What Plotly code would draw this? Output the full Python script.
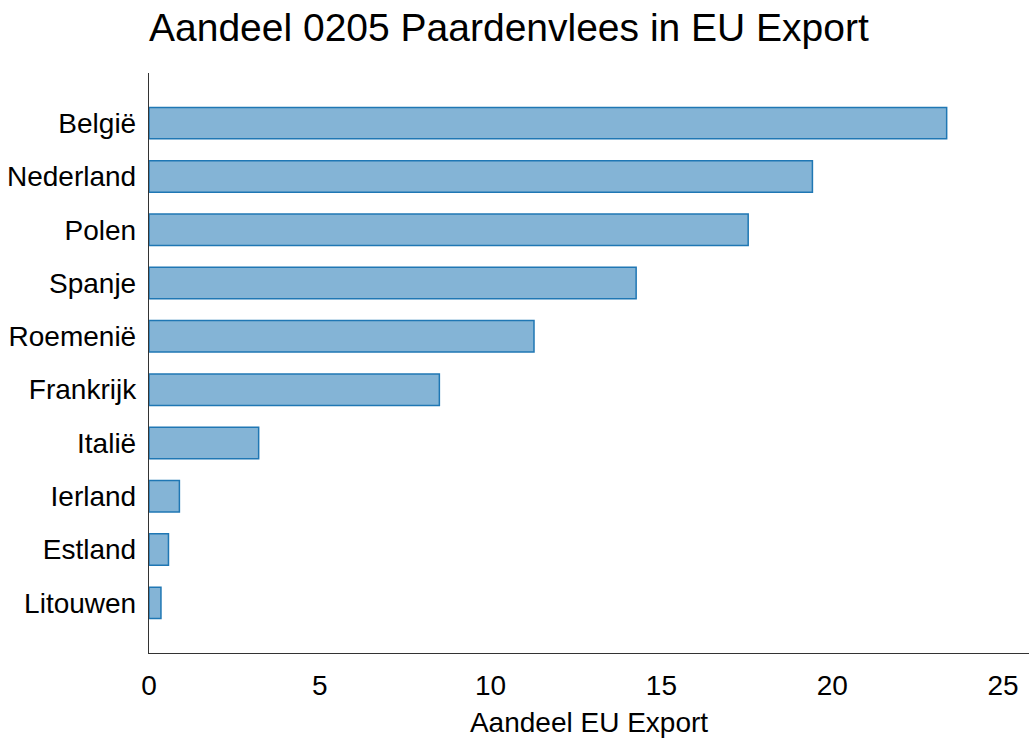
import plotly.graph_objects as go

countries = ["België", "Nederland", "Polen", "Spanje", "Roemenië",
             "Frankrijk", "Italië", "Ierland", "Estland", "Litouwen"]
shares = [23.35, 19.42, 17.54, 14.26, 11.27, 8.50, 3.21, 0.89, 0.57, 0.35]

title_text = "Aandeel 0205 Paardenvlees in EU Export"
x_title = "Aandeel EU Export"
x_ticks = [0, 5, 10, 15, 20, 25]
x_max = 25.76

FONT = "Liberation Sans, Arial, Helvetica, sans-serif"

W, H = 1029, 738

fig = go.Figure(go.Bar(
    x=shares,
    y=countries,
    orientation="h",
    width=0.59,
    marker=dict(color="rgba(31,119,180,0.55)",
                line=dict(color="#1f77b4", width=1.5)),
    hoverinfo="skip",
))

fig.update_layout(
    width=W, height=H,
    margin=dict(l=149, r=0, t=73, b=85),
    paper_bgcolor="white", plot_bgcolor="white",
    font=dict(family=FONT, size=28, color="black"),
    showlegend=False,
    title=dict(text=title_text, font=dict(size=39, family=FONT, color="black"),
               x=149 / W, xref="container", xanchor="left",
               y=1 - 27 / H, yref="container", yanchor="middle"),
    xaxis=dict(range=[0, x_max], tickvals=x_ticks,
               showgrid=False, zeroline=False, showline=True,
               linecolor="#333333", linewidth=1.2, ticks="",
               ticklabelstandoff=7,
               title=dict(text=x_title, standoff=18, font=dict(size=28))),
    yaxis=dict(categoryorder="array", categoryarray=countries,
               range=[9.94, -0.94], showgrid=False, zeroline=False,
               showline=True, linecolor="#333333", linewidth=1.2,
               ticks="", ticklabelstandoff=6),
)

fig.write_html("out.html",
               config={"displayModeBar": False, "staticPlot": True},
               post_script="document.body.style.margin='0';")
